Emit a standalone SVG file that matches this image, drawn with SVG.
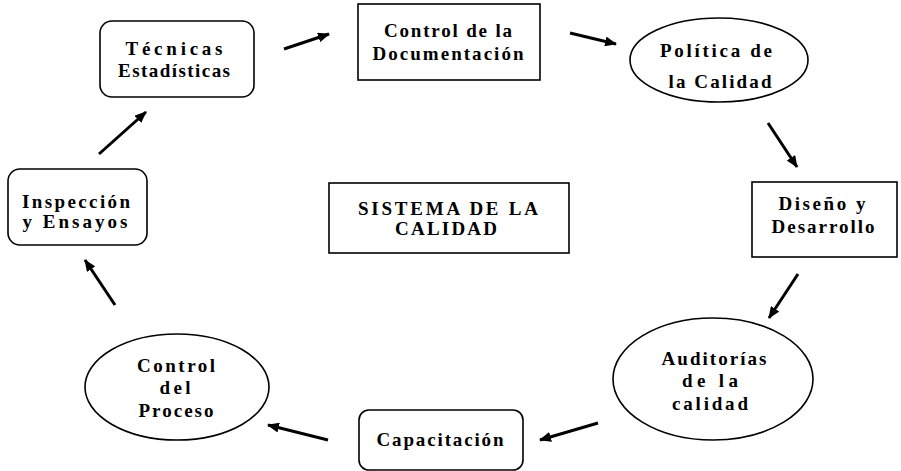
<svg xmlns="http://www.w3.org/2000/svg" width="901" height="471" viewBox="0 0 901 471">
<defs>
<style>
.box{fill:#fff;stroke:#000;stroke-width:1.6}
.t{font-family:'Liberation Serif','Times New Roman',serif;font-weight:700;font-size:19px;fill:#000;text-anchor:middle}
.c{stroke:#000;stroke-width:3;fill:none;marker-end:url(#ah)}
</style>
<marker id="ah" markerUnits="userSpaceOnUse" markerWidth="12" markerHeight="10" refX="11" refY="5" orient="auto">
<path d="M0,0 L12,5 L0,10 Z" fill="#000"/>
</marker>
</defs>
<rect width="901" height="471" fill="#fff"/>
<g id="connectors">
<line class="c" x1="284" y1="49" x2="329" y2="34"/>
<line class="c" x1="570" y1="33" x2="616" y2="44"/>
<line class="c" x1="768" y1="123" x2="797" y2="167"/>
<line class="c" x1="798" y1="274" x2="769" y2="318"/>
<line class="c" x1="598" y1="423" x2="540" y2="440"/>
<line class="c" x1="328" y1="440" x2="268" y2="425"/>
<line class="c" x1="115" y1="305" x2="85" y2="260"/>
<line class="c" x1="99" y1="154" x2="146" y2="112"/>
</g>
<g id="tecnicas">
<rect class="box" x="100" y="21" width="154" height="76" rx="12"/>
<text class="t" x="174" y="55" textLength="97" lengthAdjust="spacing">Técnicas</text>
<text class="t" x="174" y="77" textLength="112" lengthAdjust="spacing">Estadísticas</text>
</g>
<g id="control-documentacion">
<rect class="box" x="358" y="4" width="182" height="76"/>
<text class="t" x="448" y="37" textLength="128" lengthAdjust="spacing">Control de la</text>
<text class="t" x="448" y="60" textLength="151" lengthAdjust="spacing">Documentación</text>
</g>
<g id="politica">
<ellipse class="box" cx="719" cy="60" rx="89" ry="42"/>
<text class="t" x="716" y="57" textLength="112" lengthAdjust="spacing">Política de</text>
<text class="t" x="720" y="88" textLength="103" lengthAdjust="spacing">la Calidad</text>
</g>
<g id="diseno">
<rect class="box" x="752" y="182" width="145" height="75"/>
<text class="t" x="822" y="210" textLength="87" lengthAdjust="spacing">Diseño y</text>
<text class="t" x="823" y="233" textLength="103" lengthAdjust="spacing">Desarrollo</text>
</g>
<g id="auditorias">
<ellipse class="box" cx="713" cy="379" rx="100" ry="61"/>
<text class="t" x="714" y="365" textLength="105" lengthAdjust="spacing">Auditorías</text>
<text class="t" x="710" y="387" textLength="56" lengthAdjust="spacing">de la</text>
<text class="t" x="710" y="410" textLength="76" lengthAdjust="spacing">calidad</text>
</g>
<g id="capacitacion">
<rect class="box" x="359" y="410" width="164" height="60" rx="10"/>
<text class="t" x="440" y="446" textLength="127" lengthAdjust="spacing">Capacitación</text>
</g>
<g id="control-proceso">
<ellipse class="box" cx="177" cy="387" rx="92" ry="53"/>
<text class="t" x="176" y="372" textLength="78" lengthAdjust="spacing">Control</text>
<text class="t" x="175" y="394" textLength="31" lengthAdjust="spacing">del</text>
<text class="t" x="176" y="417" textLength="75" lengthAdjust="spacing">Proceso</text>
</g>
<g id="inspeccion">
<rect class="box" x="8" y="169" width="139" height="76" rx="12"/>
<text class="t" x="76" y="208" textLength="108" lengthAdjust="spacing">Inspección</text>
<text class="t" x="75" y="228" textLength="105" lengthAdjust="spacing">y Ensayos</text>
</g>
<g id="sistema">
<rect class="box" x="329" y="183" width="240" height="70"/>
<text class="t" x="448" y="215" textLength="180" lengthAdjust="spacing">SISTEMA DE LA</text>
<text class="t" x="446" y="235" textLength="102" lengthAdjust="spacing">CALIDAD</text>
</g>
</svg>
